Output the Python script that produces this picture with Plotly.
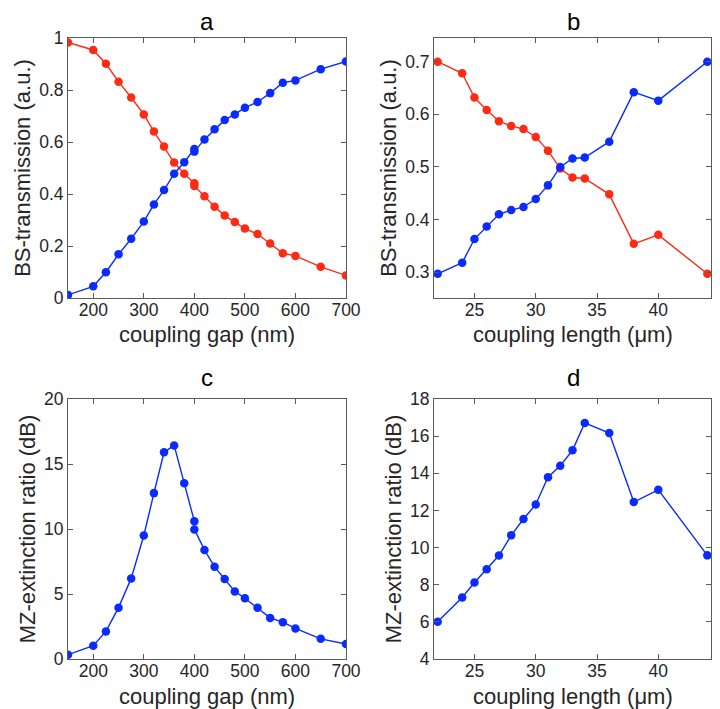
import plotly.graph_objects as go
from plotly.subplots import make_subplots

# coupling gap sweep (nm) - panels a, c
gap = [150, 200, 225, 250, 275, 300, 320, 340, 360, 380, 400, 400,
       420, 440, 460, 480, 500, 525, 550, 575, 600, 650, 700]
gap_bar = [0.012, 0.045, 0.099, 0.168, 0.228, 0.294, 0.360, 0.415, 0.478, 0.522, 0.573, 0.563,
           0.610, 0.649, 0.685, 0.706, 0.732, 0.754, 0.788, 0.828, 0.837, 0.880, 0.910]
gap_cross = [0.983, 0.954, 0.901, 0.832, 0.771, 0.706, 0.640, 0.583, 0.521, 0.478, 0.441, 0.431,
             0.391, 0.351, 0.317, 0.292, 0.267, 0.246, 0.210, 0.172, 0.162, 0.120, 0.087]
gap_er = [0.33, 1.02, 2.12, 3.95, 6.2, 9.5, 12.76, 15.9, 16.43, 13.52, 10.59, 9.97,
          8.39, 7.09, 6.15, 5.2, 4.67, 3.95, 3.16, 2.83, 2.35, 1.55, 1.15]

# coupling length sweep (um) - panels b, d
length = [22, 24, 25, 26, 27, 28, 29, 30, 31, 32, 33, 34, 36, 38, 40, 44]
len_bar = [0.297, 0.318, 0.363, 0.387, 0.410, 0.418, 0.424, 0.439, 0.465, 0.500, 0.516, 0.518,
           0.548, 0.642, 0.626, 0.700]
len_cross = [0.700, 0.678, 0.632, 0.608, 0.587, 0.578, 0.572, 0.557, 0.531, 0.497, 0.480, 0.478,
             0.448, 0.354, 0.371, 0.297]
len_er = [6.0, 7.31, 8.12, 8.83, 9.57, 10.66, 11.54, 12.32, 13.79, 14.40, 15.24, 16.71,
          16.17, 12.45, 13.11, 9.58]

BLUE = "#0a2bff"
RED = "#ff2a14"
AXC = "#262626"
FONT = "Liberation Sans, Arial, sans-serif"

# page has an 8px body margin, so the figure sits at (8, 8) and fills the rest of the window
W, H = 712, 701

fig = make_subplots(rows=2, cols=2, horizontal_spacing=0.12, vertical_spacing=0.14)


def line(x, y, color):
    return go.Scatter(x=x, y=y, mode="lines+markers", showlegend=False,
                      line=dict(color=color, width=1.4),
                      marker=dict(color=color, size=8.5))


fig.add_trace(line(gap, gap_cross, RED), row=1, col=1)
fig.add_trace(line(gap, gap_bar, BLUE), row=1, col=1)
fig.add_trace(line(length, len_cross, RED), row=1, col=2)
fig.add_trace(line(length, len_bar, BLUE), row=1, col=2)
fig.add_trace(line(gap, gap_er, BLUE), row=2, col=1)
fig.add_trace(line(length, len_er, BLUE), row=2, col=2)

axis_style = dict(showline=True, linecolor="#5a5a5a", linewidth=1, mirror="ticks",
                  ticks="inside", ticklen=5, tickcolor="#5a5a5a", showgrid=False, zeroline=False,
                  automargin=False,
                  tickfont=dict(family=FONT, size=17.5, color=AXC),
                  title_font=dict(family=FONT, size=22, color=AXC))


# helpers: window pixel -> paper coords
def px(x):
    return (x - 8) / W


def py(y):
    return 1 - (y - 8) / H


x_left = [px(68), px(346)]
x_right = [px(434), px(711)]
y_top = [py(298), py(38)]
y_bot = [py(659), py(399)]

fig.update_xaxes(**axis_style)
fig.update_yaxes(**axis_style)
fig.update_xaxes(ticklabelstandoff=-4)

fig.update_xaxes(domain=x_left, range=[150, 700], tickvals=[200, 300, 400, 500, 600, 700], row=1, col=1)
fig.update_xaxes(domain=x_right, range=[21.7, 44.3], tickvals=[25, 30, 35, 40], row=1, col=2)
fig.update_xaxes(domain=x_left, range=[150, 700], tickvals=[200, 300, 400, 500, 600, 700], row=2, col=1)
fig.update_xaxes(domain=x_right, range=[21.7, 44.3], tickvals=[25, 30, 35, 40], row=2, col=2)

fig.update_yaxes(domain=y_top, range=[0, 1], tickvals=[0, 0.2, 0.4, 0.6, 0.8, 1],
                 title_text="BS-transmission (a.u.)", title_standoff=2, row=1, col=1)
fig.update_yaxes(domain=y_top, range=[0.251, 0.745], tickvals=[0.3, 0.4, 0.5, 0.6, 0.7],
                 title_text="BS-transmission (a.u.)", title_standoff=2, row=1, col=2)
fig.update_yaxes(domain=y_bot, range=[0, 20], tickvals=[0, 5, 10, 15, 20],
                 title_text="MZ-extinction ratio (dB)", title_standoff=2, row=2, col=1)
fig.update_yaxes(domain=y_bot, range=[4, 18], tickvals=[4, 6, 8, 10, 12, 14, 16, 18],
                 title_text="MZ-extinction ratio (dB)", title_standoff=2, row=2, col=2)

# panel letters
for label, xc, yc in [("a", 207, 21), ("b", 573, 21), ("c", 207, 378), ("d", 573, 378)]:
    fig.add_annotation(text=label, x=px(xc), y=py(yc), xref="paper", yref="paper",
                       xanchor="center", yanchor="middle", showarrow=False,
                       font=dict(family=FONT, size=24, color="black"))

# x axis titles
for label, xc, yc in [("coupling gap (nm)", 207, 335), ("coupling length (μm)", 573, 335),
                      ("coupling gap (nm)", 207, 696), ("coupling length (μm)", 573, 696)]:
    fig.add_annotation(text=label, x=px(xc), y=py(yc), xref="paper", yref="paper",
                       xanchor="center", yanchor="middle", showarrow=False,
                       font=dict(family=FONT, size=22, color=AXC))

fig.update_layout(width=W, height=H, margin=dict(l=0, r=0, t=0, b=0),
                  plot_bgcolor="white", paper_bgcolor="white")

fig.write_html("out.html")
